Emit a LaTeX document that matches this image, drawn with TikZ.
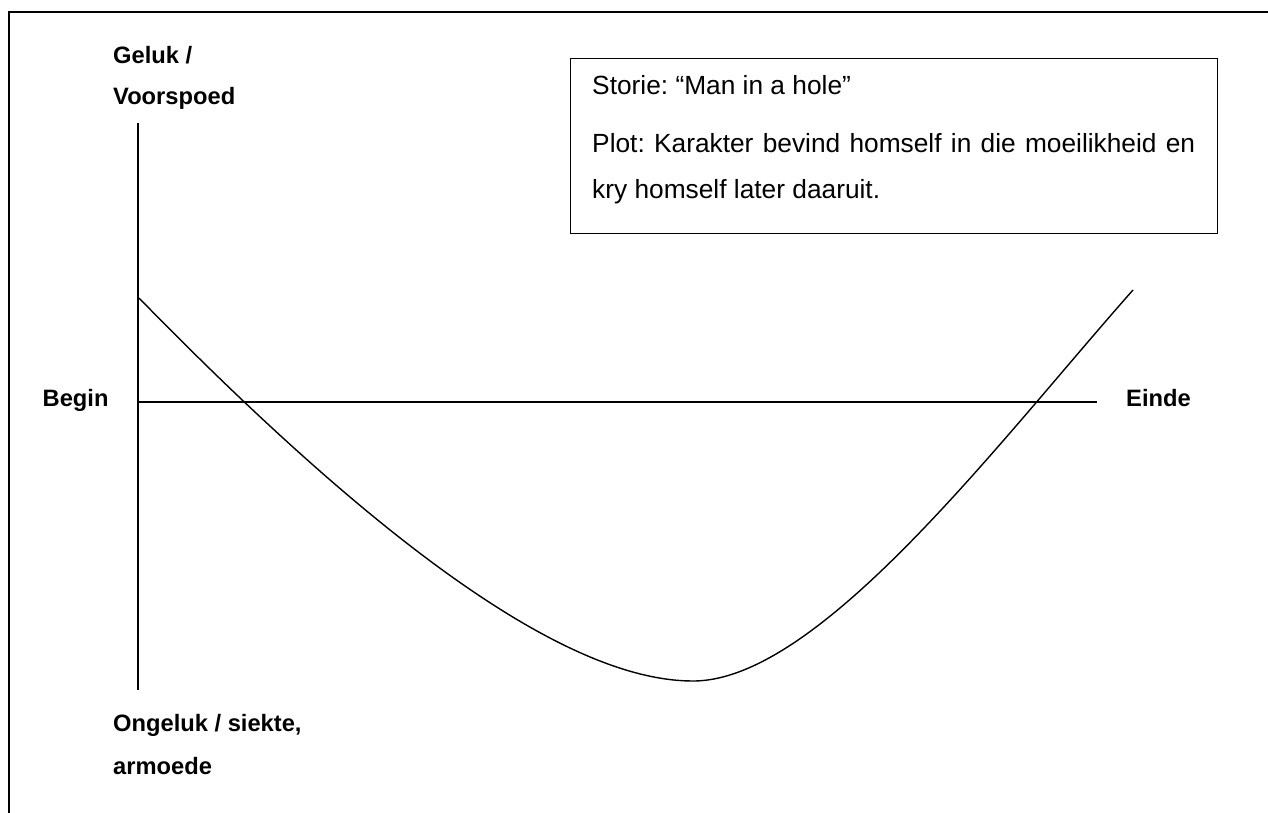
\documentclass[tikz,border=0pt]{standalone}
\usepackage{fontspec}
\setmainfont{Liberation Sans}
\frenchspacing
\begin{document}
\begin{tikzpicture}[x=1pt,y=-1pt,
  lbl/.style={anchor=base west,inner sep=0pt,font=\fontsize{23.7}{28}\selectfont\bfseries},
  boxtxt/.style={anchor=base west,inner sep=0pt,font=\fontsize{26.3}{31}\selectfont},
  ln/.style={line width=1.2pt,black},
  curveln/.style={line width=1.4pt,black}]
\useasboundingbox (0,0) rectangle (1268,813);
% page frame (cropped)
\coordinate (fTR) at (1268,12);
\coordinate (fTL) at (9,12);
\coordinate (fBL) at (9,813);
\draw[ln] (fTR) -- (fTL) -- (fBL);
% axes
\coordinate (yTop) at (138,123);
\coordinate (yBot) at (138,690);
\coordinate (xL) at (138,402);
\coordinate (xR) at (1097,402);
\draw[ln] (yTop) -- (yBot);
\draw[ln] (xL) -- (xR);
% labels
\node[lbl] (geluk) at (113,63.5) {Geluk /};
\node[lbl] (voorspoed) at (113,105) {Voorspoed};
\node[lbl] (begin) at (42.5,406) {Begin};
\node[lbl] (einde) at (1126,406.5) {Einde};
\node[lbl] (ongeluk) at (113,731.5) {Ongeluk / siekte,};
\node[lbl] (armoede) at (113,774) {armoede};
% story box
\node[draw,line width=1.2pt,anchor=north west,inner sep=0pt,minimum width=647pt,minimum height=175pt] (box) at (570,58) {};
\node[boxtxt] (storie) at (592,95) {Storie: “Man in a hole”};
\node[boxtxt] (plot1) at (592,153) {\makebox[603pt][s]{Plot: Karakter bevind homself in die moeilikheid en}};
\node[boxtxt] (plot2) at (592,198.5) {kry homself later daaruit.};
% curve
\coordinate (cS) at (139,298);
\coordinate (cM) at (693,681);
\coordinate (cE) at (1133,290);
\draw[curveln] (cS) .. controls (385,550) and (570,681) .. (cM)
  .. controls (820,681) and (1000,440) .. (cE);
\end{tikzpicture}
\end{document}
